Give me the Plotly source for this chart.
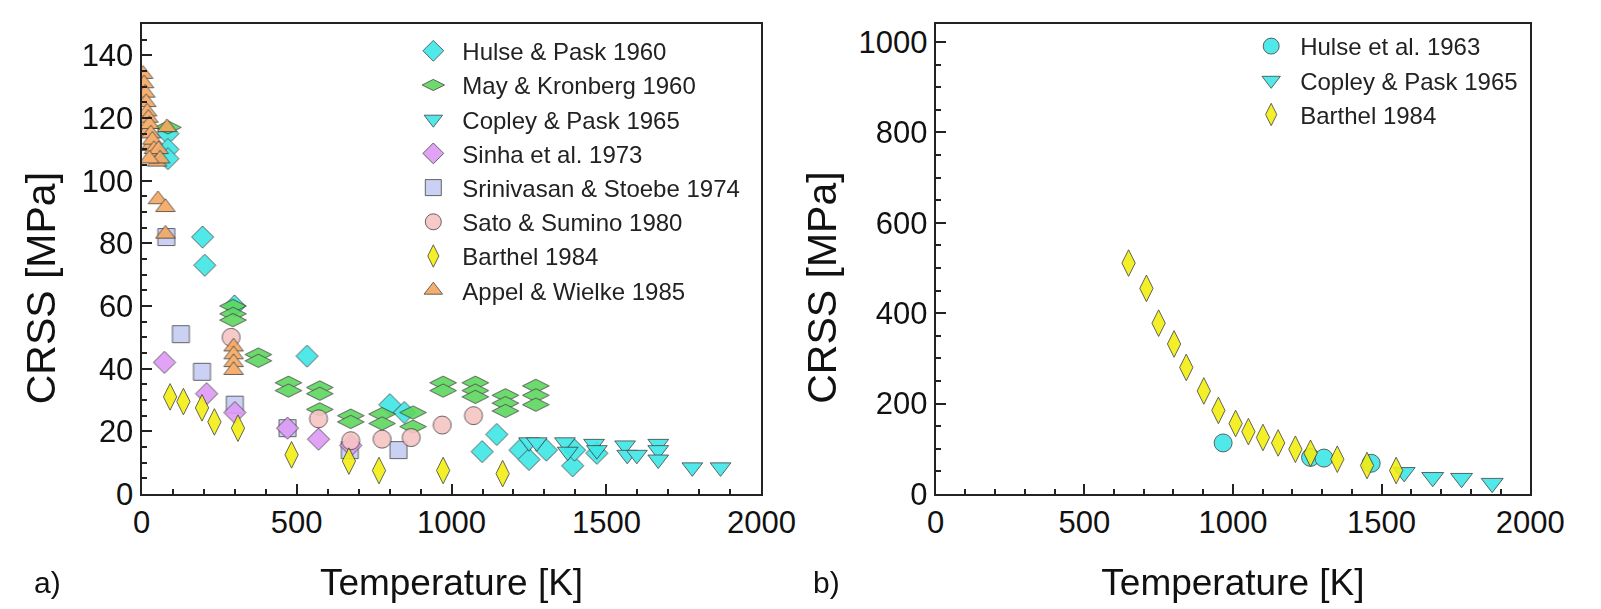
import plotly.graph_objects as go

# panel a) : temperature [K] and CRSS [MPa]
hulse_pask_T = [85, 85, 85, 197, 204, 300, 534, 801, 848, 1099, 1146, 1221, 1250, 1306, 1391, 1397, 1469]
hulse_pask_v = [115, 110, 107, 82, 73, 60, 44, 28.5, 26, 13.5, 19, 14, 11, 14, 9, 14, 13]

may_kron_T = [85, 295, 295, 295, 377, 377, 474, 474, 575, 575, 575, 675, 675, 776, 776, 876, 876,
              973, 973, 1077, 1077, 1077, 1174, 1174, 1174, 1272, 1272, 1272]
may_kron_v = [117, 60, 57.5, 55.5, 44.5, 42.5, 35.5, 33, 34, 32, 27, 25, 23, 25.5, 22.5, 26, 21.5,
              35.5, 33, 35.5, 33, 31, 31.5, 29, 26.5, 34.5, 31.5, 28.5]

copley_a_T = [1250, 1275, 1366, 1375, 1460, 1469, 1560, 1567, 1598, 1667, 1667, 1667, 1777, 1868]
copley_a_v = [16.5, 16.5, 16.5, 13.5, 16, 14, 15.5, 12.5, 12.5, 16, 14, 11, 8.5, 8.5]

sinha_T = [74, 210, 301, 471, 571, 675]
sinha_v = [42, 32, 26, 21, 17.5, 15.5]

srini_T = [80, 127, 195, 301, 471, 672, 829]
srini_v = [82, 51, 39, 28.5, 21, 14, 14]

sato_T = [289, 571, 675, 776, 870, 970, 1071]
sato_v = [50, 24, 17, 17.5, 18, 22, 25]

barthel_a_T = [92, 135, 195, 235, 311, 484, 669, 766, 973, 1165]
barthel_a_v = [31, 29.5, 27.5, 23, 21, 12.5, 10.5, 7.5, 7.5, 6.5]

appel_T = [5, 8, 12, 15, 18, 22, 20, 25, 30, 28, 35, 40, 45, 50, 55, 60, 25, 53, 77, 77, 82,
           297, 297, 297, 297]
appel_v = [134, 131, 128, 125, 122, 120, 116, 118, 115, 111, 113, 110, 108, 106, 110, 107, 107,
           94, 91.5, 83, 117, 47, 44.5, 42, 39.5]

# panel b)
hulse63_T = [967, 1261, 1306, 1465]
hulse63_v = [113, 81, 79.5, 68]

copley_b_T = [1576, 1672, 1769, 1872]
copley_b_v = [48, 37, 35, 24]

barthel_b_T = [649, 709, 750, 802, 843, 902, 951, 1009, 1052, 1101, 1152, 1210, 1261, 1351, 1451, 1549]
barthel_b_v = [511, 455, 378, 332, 280, 228, 185, 156, 138, 125, 113, 99, 90, 77, 63, 52]

CYAN = "#3ee6e6"
GREEN = "#5dd65d"
VIOLET = "#dd99f5"
LAVENDER = "#c5ccf2"
PINK = "#f7c4c4"
YELLOW = "#f2ee12"
ORANGE = "#f5a65f"
EDGE = "rgba(55,55,55,0.85)"
FONT = "Liberation Sans, Arial, sans-serif"


def pts(x, y, name, symbol, color, size, xa="x", ya="y", legend="legend", rank=1):
    return go.Scatter(
        x=x, y=y, name=name, mode="markers", xaxis=xa, yaxis=ya,
        legend=legend, legendrank=rank, opacity=0.9,
        marker=dict(symbol=symbol, color=color, size=size,
                    line=dict(color=EDGE, width=1)),
    )


fig = go.Figure()
fig.add_trace(pts(hulse_pask_T, hulse_pask_v, "Hulse & Pask 1960", "diamond", CYAN, 17, rank=1))
fig.add_trace(pts(may_kron_T, may_kron_v, "May & Kronberg 1960", "diamond-wide", GREEN, 19, rank=2))
fig.add_trace(pts(copley_a_T, copley_a_v, "Copley & Pask 1965", "triangle-down", CYAN, 18, rank=3))
fig.add_trace(pts(srini_T, srini_v, "Srinivasan & Stoebe 1974", "square", LAVENDER, 17, rank=5))
fig.add_trace(pts(sinha_T, sinha_v, "Sinha et al. 1973", "diamond", VIOLET, 17, rank=4))
fig.add_trace(pts(sato_T, sato_v, "Sato & Sumino 1980", "circle", PINK, 18, rank=6))
fig.add_trace(pts(barthel_a_T, barthel_a_v, "Barthel 1984", "diamond-tall", YELLOW, 19, rank=7))
fig.add_trace(pts(appel_T, appel_v, "Appel & Wielke 1985", "triangle-up", ORANGE, 17, rank=8))

fig.add_trace(pts(hulse63_T, hulse63_v, "Hulse et al. 1963", "circle", CYAN, 18, "x2", "y2", "legend2", 1))
fig.add_trace(pts(copley_b_T, copley_b_v, "Copley & Pask 1965", "triangle-down", CYAN, 19, "x2", "y2", "legend2", 2))
fig.add_trace(pts(barthel_b_T, barthel_b_v, "Barthel 1984", "diamond-tall", YELLOW, 19, "x2", "y2", "legend2", 3))

W, H = 1601, 609
TOP, BOT = 16, 486
axis_style = dict(
    showline=True, linewidth=2, linecolor="#222", mirror=True,
    showgrid=False, zeroline=False,
    ticks="inside", ticklen=10, tickwidth=2, tickcolor="#222",
    tickfont=dict(size=31, color="#111"),
)
minor_x = dict(ticks="inside", ticklen=5, dtick=100, tickcolor="#222")


def py(px):
    # pixel row -> paper y
    return (BOT - px) / (BOT - TOP)


def label(text, x, y, size, angle=0):
    return dict(text=text, x=x / W, y=py(y), xref="paper", yref="paper",
                xanchor="center", yanchor="middle", showarrow=False,
                textangle=angle, font=dict(size=size, color="#111"))


fig.update_layout(
    width=W, height=H,
    margin=dict(l=0, r=0, t=TOP, b=H - BOT),
    paper_bgcolor="white", plot_bgcolor="white",
    font=dict(family=FONT, color="#111"),
    xaxis=dict(axis_style, domain=[128 / W, 765 / W], range=[0, 2000], dtick=500, minor=minor_x,
               title=dict(text="Temperature [K]", standoff=30, font=dict(size=37)), anchor="y"),
    yaxis=dict(axis_style, domain=[0, 1], range=[0, 150], dtick=20,
               minor=dict(ticks="inside", ticklen=5, dtick=5, tickcolor="#222"), anchor="x"),
    xaxis2=dict(axis_style, domain=[944 / W, 1555 / W], range=[0, 2000], dtick=500, minor=minor_x,
                title=dict(text="Temperature [K]", standoff=30, font=dict(size=37)), anchor="y2"),
    yaxis2=dict(axis_style, domain=[0, 1], range=[0, 1040], dtick=200,
                minor=dict(ticks="inside", ticklen=5, dtick=50, tickcolor="#222"), anchor="x2"),
    legend=dict(x=398 / W, y=0.99, xanchor="left", yanchor="top",
                bgcolor="rgba(0,0,0,0)", font=dict(size=24, color="#222"),
                tracegroupgap=0, itemwidth=48),
    legend2=dict(x=1259 / W, y=1.0, xanchor="left", yanchor="top",
                 bgcolor="rgba(0,0,0,0)", font=dict(size=24, color="#222"),
                 tracegroupgap=0, itemwidth=48),
    annotations=[
        label("CRSS [MPa]", 25, 280, 41, -90),
        label("CRSS [MPa]", 827, 280, 41, -90),
        label("a)", 31, 574, 30),
        label("b)", 832, 574, 30),
    ],
)

fig.write_html("out.html")
